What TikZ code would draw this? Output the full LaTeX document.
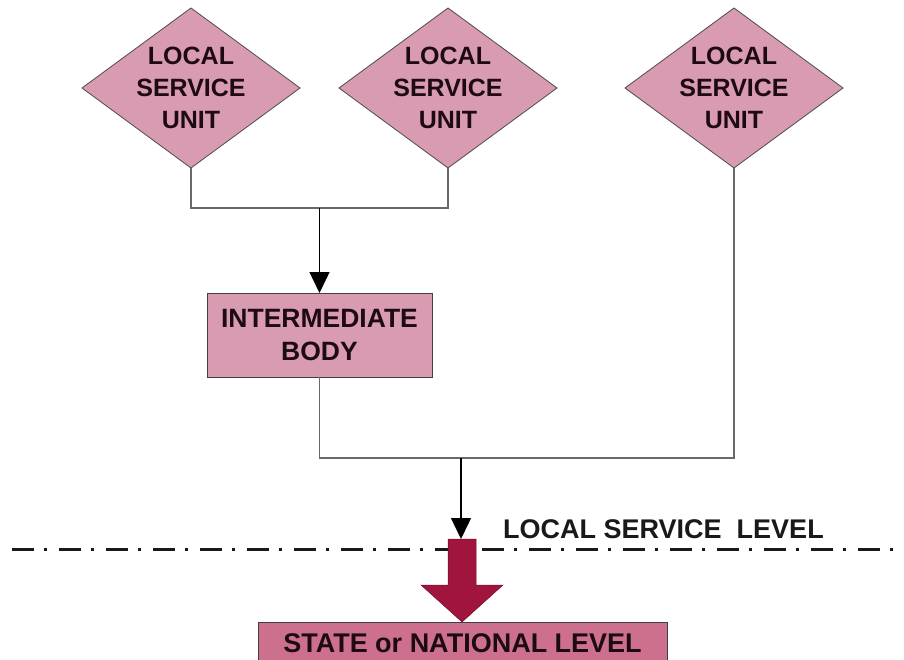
\documentclass[tikz,border=0pt]{standalone}
\usepackage{fontspec}
\setmainfont{Liberation Sans}
\usetikzlibrary{shapes.geometric,arrows.meta}
\definecolor{pinkfill}{RGB}{217,155,177}
\definecolor{levelfill}{RGB}{204,112,142}
\definecolor{maroon}{RGB}{160,20,62}
\definecolor{txt}{RGB}{30,10,18}
\definecolor{conn}{RGB}{105,105,105}
\tikzset{
  unitshape/.style={diamond,draw=black!70,line width=0.8pt,fill=pinkfill,minimum width=218pt,minimum height=160pt,inner sep=0pt,outer sep=0pt},
  unittext/.style={align=center,text=txt,font=\bfseries\fontsize{25}{32}\selectfont},
  bodybox/.style={rectangle,draw=black!75,line width=0.8pt,fill=pinkfill,minimum width=225pt,minimum height=84pt,inner sep=0pt,outer sep=0pt,align=center,text=txt,font=\bfseries\fontsize{26.5}{33}\selectfont},
  levelbox/.style={rectangle,draw=black!75,line width=0.8pt,fill=levelfill,minimum width=409pt,minimum height=42pt,inner sep=0pt,outer sep=0pt,text=txt,font=\bfseries\fontsize{27}{30}\selectfont},
  link/.style={draw=conn,line width=1.6pt},
  flow/.style={draw=black,line width=1.4pt,-{Triangle[width=20pt,length=21pt]}},
  levelline/.style={line width=3pt,draw=black!90,dash pattern=on 22pt off 10pt on 3pt off 12pt},
  leveltext/.style={anchor=west,text=black!90,font=\bfseries\fontsize{27}{30}\selectfont,inner sep=0pt}
}
\begin{document}
\begin{tikzpicture}[x=1pt,y=-1pt]
\useasboundingbox (0,0) rectangle (904,660);
\clip (0,0) rectangle (904,660);
% units
\node[unitshape] (u1) at (191,88) {};
\node[unittext] at (u1.center) {LOCAL\\SERVICE\\UNIT};
\node[unitshape] (u2) at (448,88) {};
\node[unittext] at (u2.center) {LOCAL\\SERVICE\\UNIT};
\node[unitshape] (u3) at (734,88) {};
\node[unittext] at (u3.center) {LOCAL\\SERVICE\\UNIT};
% intermediate body
\node[bodybox] (ib) at (319.5,335) {INTERMEDIATE\\BODY};
% junctions
\coordinate (j1) at (319.5,208);
\coordinate (j2) at (461,458);
\draw[link] (u1.south) |- (j1) -| (u2.south);
\draw[flow] (j1) -- (ib.north);
\draw[link] (ib.south) |- (j2) -| (u3.south);
% level line
\draw[levelline] (12,549) -- (904,549);
\node[leveltext] (lsl) at (503,529) {LOCAL SERVICE\ \ LEVEL};
% big arrow
\coordinate (bt) at (461,539);
\fill[maroon,draw=maroon!70!black,line width=0.5pt] (448,539) -- (476,539) -- (476,585) -- (503,585) -- (462,622) -- (421,585) -- (448,585) -- cycle;
\draw[flow] (j2) -- (bt);
% level box
\node[levelbox] (lv) at (462.5,643) {STATE or NATIONAL LEVEL};
\end{tikzpicture}
\end{document}
